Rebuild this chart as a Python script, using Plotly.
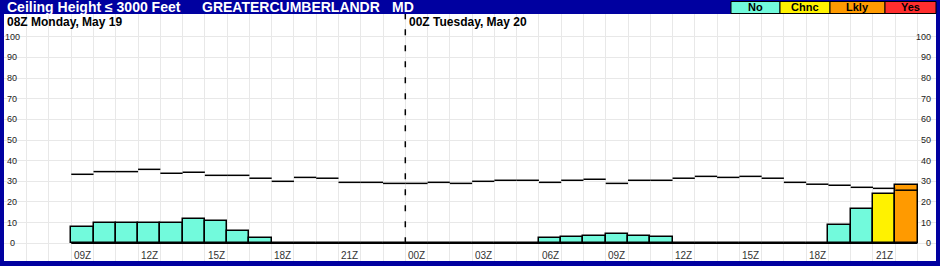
import plotly.graph_objects as go

# ---------------- data ----------------
title_left = "Ceiling Height ≤ 3000 Feet"
station = "GREATERCUMBERLANDR"
state = "MD"
day_labels = ["08Z Monday, May 19", "00Z Tuesday, May 20"]
day_start_hours = [0, 16]          # hours after 08Z Monday
legend_cats = ["No", "Chnc", "Lkly", "Yes"]
legend_colors = ["#72FADC", "#FFF200", "#FF9A00", "#FF2E2E"]

# forecast hours (hours after 08Z Monday): 09Z Mon .. 22Z Tue
hours = list(range(1, 39))
prob = [8, 10, 10, 10, 10, 12, 11, 6, 2.5,
        0, 0, 0, 0, 0, 0, 0, 0, 0, 0, 0, 0,
        2.5, 3, 3.5, 4.5, 3.5, 3,
        0, 0, 0, 0, 0, 0, 0,
        9, 16.5, 24, 28]
category = ["No"] * 36 + ["Chnc", "Lkly"]
ref_line = [33.4, 34.7, 34.7, 35.8, 33.9, 34.4, 32.9, 32.9, 31.5, 30.0,
            31.9, 31.5, 29.5, 29.5, 29.0, 29.0, 29.5, 29.0, 30.0, 30.5,
            30.5, 29.5, 30.5, 31.0, 29.0, 30.5, 30.5, 31.5, 32.4, 31.9,
            32.4, 31.5, 29.5, 28.6, 28.1, 27.1, 26.6, 25.7]
xtick_hours = [1, 4, 7, 10, 13, 16, 19, 22, 25, 28, 31, 34, 37]
xtick_labels = ["09Z", "12Z", "15Z", "18Z", "21Z", "00Z", "03Z", "06Z",
                "09Z", "12Z", "15Z", "18Z", "21Z"]
ytick_vals = [0, 10, 20, 30, 40, 50, 60, 70, 80, 90, 100]

# ---------------- layout geometry ----------------
W, H = 940, 266
ML, MR, MT, MB = 4, 4, 14, 5
PW, PH = W - ML - MR, H - MT - MB
NAVY = "#0000A0"
FONT = "Liberation Sans, Arial, sans-serif"


def px(x):
    return (x - ML) / PW


def py(y):
    return (H - MB - y) / PH


color_map = dict(zip(legend_cats, legend_colors))

fig = go.Figure()

# bars
fig.add_trace(go.Bar(
    x=[h + 0.5 for h in hours], y=prob, width=1,
    marker=dict(color=[color_map[c] for c in category],
                line=dict(color="black", width=1.5)),
    showlegend=False, hoverinfo="skip"))

# zero baseline over data range
fig.add_trace(go.Scatter(
    x=[hours[0], hours[-1] + 1], y=[0, 0], mode="lines",
    line=dict(color="black", width=1.5), showlegend=False, hoverinfo="skip"))

# hourly reference segments
sx, sy = [], []
for h, v in zip(hours, ref_line):
    sx += [h, h + 1, None]
    sy += [v, v, None]
fig.add_trace(go.Scatter(
    x=sx, y=sy, mode="lines", line=dict(color="black", width=1.5),
    showlegend=False, hoverinfo="skip"))

# dashed day boundary
fig.add_shape(type="line", xref="x", yref="y", x0=day_start_hours[1],
              x1=day_start_hours[1], y0=0, y1=111,
              line=dict(color="black", width=1.5, dash="6px,10px"))

annotations = []
# title bar
annotations.append(dict(xref="paper", yref="paper", x=px(5), y=py(7),
                        xanchor="left", yanchor="middle", showarrow=False,
                        text=title_left,
                        font=dict(family=FONT, size=14, color="white", weight="bold")))
annotations.append(dict(xref="paper", yref="paper", x=px(200), y=py(7),
                        xanchor="left", yanchor="middle", showarrow=False,
                        text=station,
                        font=dict(family=FONT, size=14, color="white", weight="bold")))
annotations.append(dict(xref="paper", yref="paper", x=px(390), y=py(7),
                        xanchor="left", yanchor="middle", showarrow=False,
                        text=state,
                        font=dict(family=FONT, size=14, color="white", weight="bold")))

# legend boxes
box_edges = [731, 780, 830, 885, 936]
for i, (cat, col) in enumerate(zip(legend_cats, legend_colors)):
    fig.add_shape(type="rect", xref="paper", yref="paper",
                  x0=px(box_edges[i]), x1=px(box_edges[i + 1]),
                  y0=py(13.5), y1=py(1.5), fillcolor=col,
                  line=dict(color="black", width=1), layer="above")
    annotations.append(dict(xref="paper", yref="paper",
                            x=px((box_edges[i] + box_edges[i + 1]) / 2), y=py(7.5),
                            xanchor="center", yanchor="middle", showarrow=False,
                            text=cat,
                            font=dict(family=FONT, size=11, color="black", weight="bold")))

# day labels
day_label_px = [5, 407]
for lab, xp in zip(day_labels, day_label_px):
    annotations.append(dict(xref="paper", yref="paper", x=px(xp), y=py(21.5),
                            xanchor="left", yanchor="middle", showarrow=False,
                            text=lab,
                            font=dict(family=FONT, size=12, color="black", weight="bold")))

# y tick labels (both sides, inside plot)
for v in ytick_vals:
    annotations.append(dict(xref="paper", yref="y", x=px(12), y=v,
                            xanchor="center", yanchor="middle", showarrow=False,
                            text=str(v), font=dict(family=FONT, size=9, color="#222")))
    annotations.append(dict(xref="paper", yref="y", x=px(933), y=v,
                            xanchor="right", yanchor="middle", showarrow=False,
                            text=str(v), font=dict(family=FONT, size=9, color="#222")))

# x tick labels
for h, lab in zip(xtick_hours, xtick_labels):
    annotations.append(dict(xref="x", yref="y", x=h + 0.5, y=-5.9,
                            xanchor="center", yanchor="middle", showarrow=False,
                            text=lab, font=dict(family=FONT, size=10, color="#333")))

fig.update_layout(
    width=W, height=H,
    margin=dict(l=ML, r=MR, t=MT, b=MB, pad=0),
    paper_bgcolor=NAVY, plot_bgcolor="white",
    barmode="overlay", bargap=0,
    annotations=annotations,
    xaxis=dict(range=[-2.02, 39.83], dtick=1, tick0=0, showgrid=True,
               gridcolor="#E8E8E8", gridwidth=1, showticklabels=False,
               zeroline=False, ticks="", showline=False, fixedrange=True),
    yaxis=dict(range=[-8.57, 110.99], tickvals=ytick_vals, showgrid=True,
               gridcolor="#E8E8E8", gridwidth=1, showticklabels=False,
               zeroline=False, ticks="", showline=False, fixedrange=True),
    showlegend=False,
)

fig.write_html("out.html")
